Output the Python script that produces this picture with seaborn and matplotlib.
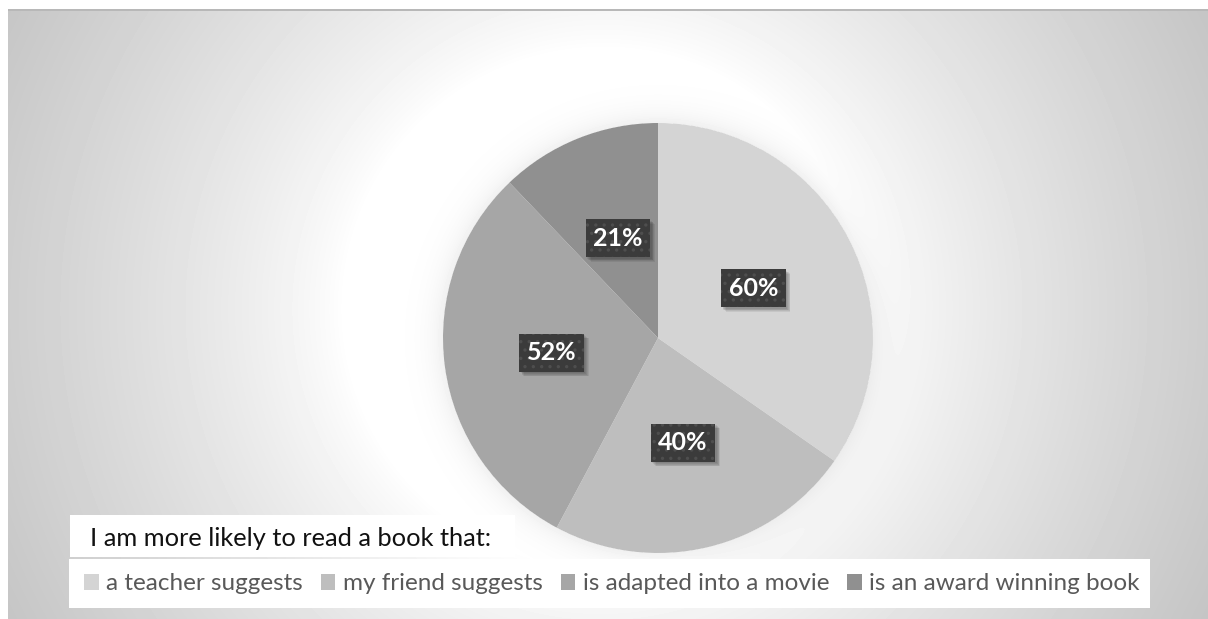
import numpy as np
import matplotlib
matplotlib.use("Agg")
import matplotlib.pyplot as plt
import matplotlib.transforms as mtransforms
from matplotlib.patches import Rectangle
import seaborn as sns

# Survey answers: share of students agreeing with each statement
categories = ["a teacher suggests", "my friend suggests",
              "is adapted into a movie", "is an award winning book"]
values = [60, 40, 52, 21]
legend_title = "I am more likely to read a book that:"

sns.set_theme(style="white")
plt.rcParams["font.family"] = ["Lato", "DejaVu Sans"]
plt.rcParams["hatch.linewidth"] = 1.2

palette = sns.color_palette(["#d4d4d4", "#bebebe", "#a6a6a6", "#909090"])

W, H = 1208, 619
fig = plt.figure(figsize=(W / 100, H / 100), dpi=100)

# ---- chart-area background: soft radial fill with a faint halo round the pie
bg = fig.add_axes([0, 0, 1, 1])
bg.set_xlim(0, W)
bg.set_ylim(H, 0)
bg.axis("off")

cx, cy, r_pie = 658, 338, 215
yy, xx = np.mgrid[0:H, 0:W] + 0.5
d = np.hypot(xx - 604, yy - 309)
t = np.clip((d - 260) / (680 - 260), 0, 1) ** 0.8
img = 1 - 0.23 * t
dp = np.hypot(xx - cx, yy - cy) - r_pie
halo = np.where(dp > 0, 0.06 * np.exp(-dp / 14.0), 0)
img = img - halo
img[:, :8] = 1.0
img[:9, :] = 1.0
img[9:11, 8:] = 0.72
bg.imshow(img, cmap="gray", vmin=0, vmax=1, extent=(0, W, H, 0),
          interpolation="bilinear", aspect="auto")

# white panels for the legend
bg.add_patch(Rectangle((70, 515), 445, 42, facecolor="white", edgecolor="none"))
bg.add_patch(Rectangle((69, 559), 1081, 49, facecolor="white", edgecolor="none"))

# ---- pie
ax = fig.add_axes([(cx - r_pie) / W, (H - cy - r_pie) / H, 2 * r_pie / W, 2 * r_pie / H])
total = sum(values)
wedges, _, autotexts = ax.pie(
    values, colors=palette, startangle=90, counterclock=False, radius=1,
    wedgeprops=dict(linewidth=0),
    autopct=lambda p: f"{round(p * total / 100):d}%", pctdistance=0.5,
)
ax.set_xlim(-1, 1)
ax.set_ylim(-1, 1)
ax.axis("off")

for at in autotexts:
    at.set_color("white")
    at.set_fontsize(18)
    at.set_fontweight("bold")
    at.set_bbox(dict(boxstyle="square,pad=0.3", linewidth=0,
                     facecolor="#3b3b3b", edgecolor="#4e4e4e", hatch=".."))
    at.set_zorder(5)

# soft drop shadow under each label box: offset translucent rectangles
fig.canvas.draw()
renderer = fig.canvas.get_renderer()
for at in autotexts:
    ext = at.get_bbox_patch().get_window_extent(renderer)
    for k in (2, 3, 4, 5, 6):
        off = k * 0.8
        ax.add_patch(Rectangle((ext.x0 + off, ext.y0 - off), ext.width, ext.height,
                               transform=mtransforms.IdentityTransform(),
                               facecolor=(0, 0, 0, 0.07), edgecolor="none",
                               zorder=4, clip_on=False))

# ---- legend
fig.text(90 / W, 1 - 539 / H, legend_title, fontsize=18.3, color="#111111",
         va="center", ha="left")
fig.legend(wedges, categories, ncol=4, frameon=False, loc="center left",
           bbox_to_anchor=(84 / W, 1 - 584 / H), borderpad=0, borderaxespad=0,
           fontsize=17.5, labelcolor="#595959", handlelength=0.6,
           handleheight=0.6, handletextpad=0.3, columnspacing=0.75)

fig.savefig("out.png", dpi=100)
